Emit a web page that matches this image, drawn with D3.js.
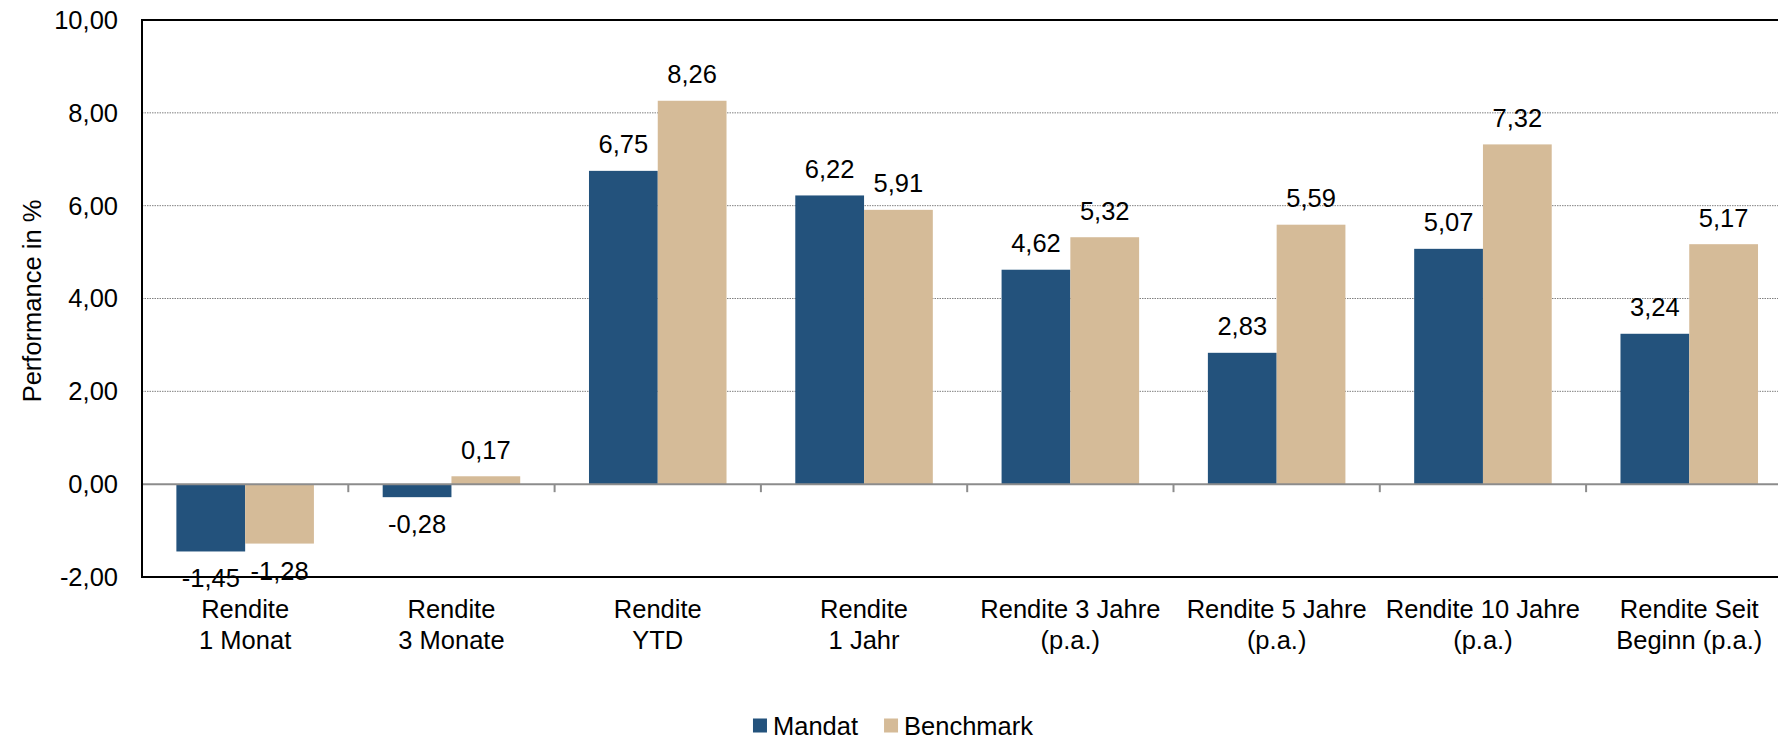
<!DOCTYPE html>
<meta charset="utf-8">
<style>
  body { margin: 0; background: #fff; }
  svg text { font-family: "Liberation Sans", Arial, sans-serif; fill: #000; }
</style>
<body>
<script src="https://d3js.org/d3.v7.min.js"></script>
<script>

// chart data
var categories = [
  ["Rendite", "1 Monat"],
  ["Rendite", "3 Monate"],
  ["Rendite", "YTD"],
  ["Rendite", "1 Jahr"],
  ["Rendite 3 Jahre", "(p.a.)"],
  ["Rendite 5 Jahre", "(p.a.)"],
  ["Rendite 10 Jahre", "(p.a.)"],
  ["Rendite Seit", "Beginn (p.a.)"]
];
var seriesNames = ["Mandat", "Benchmark"];
var mandat    = [-1.45, -0.28, 6.75, 6.22, 4.62, 2.83, 5.07, 3.24];
var benchmark = [-1.28,  0.17, 8.26, 5.91, 5.32, 5.59, 7.32, 5.17];
var yTicks = [-2, 0, 2, 4, 6, 8, 10];
var colors = ["#23527c", "#d5bb98"];

// layout (note: "top" is a reserved window property, so use other names)
var W = 1778, H = 740;
var plotLeft = 142, plotTop = 20, plotBottom = 577, plotRight = 142 + 8 * 206.3;
var fontSize = "25.5px";

// german number format, plain hyphen as minus
var de = d3.formatLocale({decimal: ",", thousands: ".", grouping: [3], currency: ["", " €"], minus: "-"});
var fmt = de.format(".2f");

var svg = d3.select("body").append("svg")
    .attr("width", W)
    .attr("height", H);

var catKeys = categories.map(function(c) { return c.join(" "); });

var x0 = d3.scaleBand()
    .domain(catKeys)
    .range([plotLeft, plotRight])
    .paddingInner(0)
    .paddingOuter(0);

var x1 = d3.scaleBand()
    .domain(seriesNames)
    .range([0, x0.bandwidth()])
    .paddingInner(0)
    .paddingOuter(0.5);

var y = d3.scaleLinear()
    .domain([-2, 10])
    .range([plotBottom, plotTop]);

// gridlines (dotted gray)
svg.append("g")
  .selectAll("line")
  .data(yTicks.filter(function(t) { return t !== 0 && t !== -2 && t !== 10; }))
  .enter().append("line")
    .attr("x1", plotLeft).attr("x2", plotRight)
    .attr("y1", function(d) { return y(d); })
    .attr("y2", function(d) { return y(d); })
    .attr("stroke", "#808080")
    .attr("stroke-width", 1)
    .attr("stroke-dasharray", "1.5,1");

// y tick labels
svg.append("g")
  .selectAll("text")
  .data(yTicks)
  .enter().append("text")
    .attr("x", plotLeft - 24)
    .attr("y", function(d) { return y(d); })
    .attr("dy", "0.35em")
    .attr("text-anchor", "end")
    .style("font-size", fontSize)
    .text(function(d) { return fmt(d); });

// bars
var rows = catKeys.map(function(k, i) {
  return {key: k, values: [
    {name: seriesNames[0], v: mandat[i]},
    {name: seriesNames[1], v: benchmark[i]}
  ]};
});

var groups = svg.append("g")
  .selectAll("g")
  .data(rows)
  .enter().append("g")
    .attr("transform", function(d) { return "translate(" + x0(d.key) + ",0)"; });

groups.selectAll("rect")
  .data(function(d) { return d.values; })
  .enter().append("rect")
    .attr("x", function(d) { return x1(d.name); })
    .attr("width", x1.bandwidth())
    .attr("y", function(d) { return y(Math.max(0, d.v)); })
    .attr("height", function(d) { return Math.abs(y(d.v) - y(0)); })
    .attr("fill", function(d, i) { return colors[i]; });

// zero line with tick marks
svg.append("line")
    .attr("x1", plotLeft).attr("x2", plotRight)
    .attr("y1", y(0)).attr("y2", y(0))
    .attr("stroke", "#8c8c8c")
    .attr("stroke-width", 2);

svg.append("g")
  .selectAll("line")
  .data(catKeys.slice(1))
  .enter().append("line")
    .attr("x1", function(d) { return x0(d); })
    .attr("x2", function(d) { return x0(d); })
    .attr("y1", y(0))
    .attr("y2", y(0) + 8)
    .attr("stroke", "#8c8c8c")
    .attr("stroke-width", 2);

// frame
svg.append("path")
    .attr("d", "M" + plotRight + "," + plotTop + "H" + plotLeft + "V" + plotBottom + "H" + plotRight)
    .attr("fill", "none")
    .attr("stroke", "#000")
    .attr("stroke-width", 2);

// value labels
groups.selectAll("text.val")
  .data(function(d) { return d.values; })
  .enter().append("text")
    .attr("class", "val")
    .attr("x", function(d) { return x1(d.name) + x1.bandwidth() / 2; })
    .attr("y", function(d) { return d.v >= 0 ? y(d.v) - 17.5 : y(d.v) + 36; })
    .attr("text-anchor", "middle")
    .style("font-size", fontSize)
    .text(function(d) { return fmt(d.v); });

// category labels
var catLabels = svg.append("g")
  .selectAll("text")
  .data(categories)
  .enter().append("text")
    .attr("text-anchor", "middle")
    .style("font-size", fontSize)
    .attr("x", function(d, i) { return x0(catKeys[i]) + x0.bandwidth() / 2; })
    .attr("y", 618);

catLabels.append("tspan")
    .attr("x", function(d, i) { return x0(catKeys[i]) + x0.bandwidth() / 2; })
    .text(function(d) { return d[0]; });
catLabels.append("tspan")
    .attr("x", function(d, i) { return x0(catKeys[i]) + x0.bandwidth() / 2; })
    .attr("dy", 31)
    .text(function(d) { return d[1]; });

// y axis title
svg.append("text")
    .attr("transform", "translate(41," + 301 + ") rotate(-90)")
    .attr("text-anchor", "middle")
    .style("font-size", fontSize)
    .text("Performance in %");

// legend
var legend = svg.append("g");
var lx = 0;
seriesNames.forEach(function(name, i) {
  var item = legend.append("g").attr("transform", "translate(" + lx + ",0)");
  item.append("rect")
      .attr("x", 0).attr("y", -16.5)
      .attr("width", 14).attr("height", 14)
      .attr("fill", colors[i]);
  var t = item.append("text")
      .attr("x", 20).attr("y", 0)
      .style("font-size", fontSize)
      .text(name);
  lx += 20 + t.node().getComputedTextLength() + 26;
});
var legendWidth = lx - 26;
legend.attr("transform", "translate(" + (893 - legendWidth / 2) + ",735)");

</script>
</body>
